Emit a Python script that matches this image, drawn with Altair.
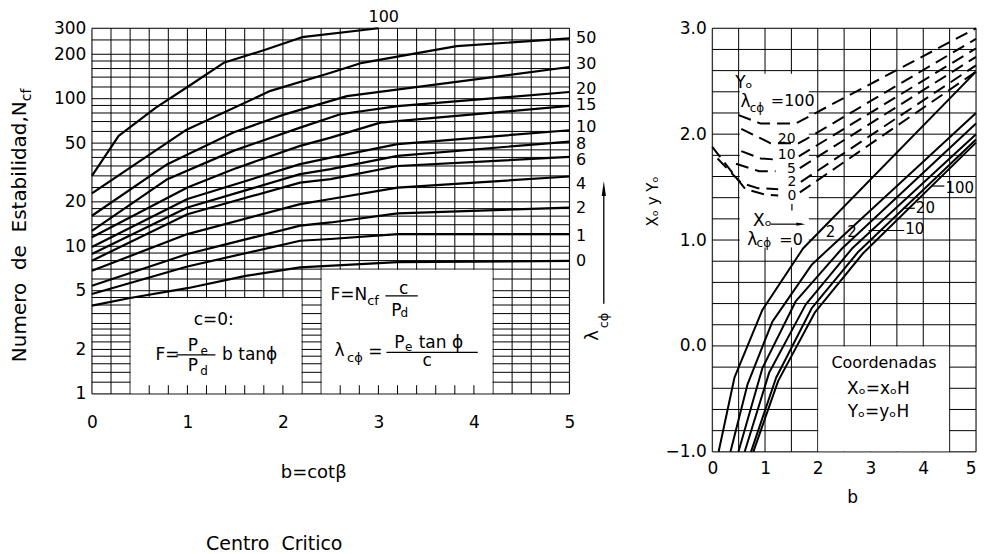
import altair as alt
import pandas as pd

FONT = "DejaVu Sans"
NB = "\u00a0"

# ============================ LEFT PANEL DATA ============================
# N_cf versus b = cot(beta), one polyline per lambda_c-phi value
b_l0 = [0, 0.4, 1.0, 1.61, 2.18, 3.2, 5]
n_l0 = [3.96, 4.46, 5.2, 6.3, 7.2, 7.8, 7.97]
b_l1 = [0, 1.0, 2.18, 2.5, 3.2, 5]
n_l1 = [4.75, 7.3, 10.9, 11.2, 12.1, 12.1]
b_l2 = [0, 1.0, 2.18, 2.5, 3.2, 5]
n_l2 = [5.4, 8.86, 13.8, 14.5, 16.7, 18.3]
b_l4 = [0, 1.0, 2.18, 2.5, 3.2, 5]
n_l4 = [6.83, 12.1, 19.3, 20.9, 25.0, 29.7]
b_l6 = [0, 1.0, 2.18, 2.5, 3.2, 5]
n_l6 = [7.98, 16.5, 27.0, 28.5, 35.0, 40.3]
b_l8 = [0, 1.0, 2.18, 2.5, 3.2, 5]
n_l8 = [8.86, 18.3, 30.8, 33.3, 41.0, 51.2]
b_l10 = [0, 1.0, 2.18, 2.5, 3.2, 5]
n_l10 = [9.9, 20.9, 36.0, 39.9, 49.2, 61.1]
b_l15 = [0, 1.0, 1.48, 2.18, 2.5, 3.02, 5]
n_l15 = [11.5, 25.0, 33.3, 47.9, 54.5, 68.8, 89.3]
b_l20 = [0, 0.79, 1.48, 2.18, 2.6, 3.2, 5]
n_l20 = [12.7, 28.5, 44.3, 63.7, 78.4, 89.0, 111]
b_l30 = [0, 0.79, 1.48, 2.01, 2.67, 5]
n_l30 = [16.1, 36.0, 59.0, 78.0, 104, 164]
b_l50 = [0, 0.98, 1.87, 2.5, 2.83, 3.82, 5]
n_l50 = [22.8, 61.0, 113, 150, 175, 227, 256]
b_l100 = [0, 0.28, 0.67, 1.0, 1.38, 1.83, 2.2, 3.0]
n_l100 = [30.0, 56.0, 87.0, 120, 175, 216, 261, 300]

# curve labels at the right of the left panel
lab_left_text = ["50", "30", "20", "15", "10", "8", "6", "4", "2", "1", "0"]
lab_left_n = [256, 172, 117, 90.7, 64.3, 49.6, 38.3, 26.6, 18.1, 11.8, 7.98]

# grid of the left panel
left_b_grid = [i / 5 for i in range(26)]
left_n_grid = [1, 1.2, 1.4, 1.6, 1.8, 2, 2.25, 2.5, 2.75, 3, 3.5, 4, 4.5, 5, 6, 7, 8, 9,
               10, 12, 14, 16, 18, 20, 25, 30, 35, 40, 45, 50, 60, 70, 80, 90,
               100, 120, 140, 160, 180, 200, 250, 300]
left_x_ticks = [0, 1, 2, 3, 4, 5]
left_y_ticks = [1, 2, 5, 10, 20, 50, 100, 200, 300]

# white formula boxes (b range, N range)
box_b0 = [0.4, 2.4]
box_b1 = [2.2, 4.2]
box_n0 = [1, 1]
box_n1 = [4.5, 7.0]
box_ticks_b = [0.6, 0.8, 1.0, 1.2, 1.4, 1.6, 1.8, 2.0, 2.6, 2.8, 3.0, 3.2, 3.4, 3.6, 3.8, 4.0]

# ============================ RIGHT PANEL DATA ===========================
# X0 (solid) curves
sA_b = [0.12, 0.42, 0.95, 1.72, 5]
sA_y = [-1.0, -0.30, 0.34, 0.92, 2.59]
sB_b = [0.345, 0.67, 1.14, 1.89, 5]
sB_y = [-1.0, -0.36, 0.23, 0.77, 2.20]
sC_b = [0.496, 0.95, 1.58, 2.46, 5]
sC_y = [-1.0, -0.21, 0.42, 0.92, 2.10]
sD_b = [0.614, 1.08, 1.77, 2.65, 5]
sD_y = [-1.0, -0.25, 0.39, 0.92, 2.00]
sE_b = [0.734, 1.21, 1.89, 2.77, 5]
sE_y = [-1.0, -0.30, 0.36, 0.89, 1.95]
sF_b = [0.778, 1.25, 1.95, 2.85, 5]
sF_y = [-1.0, -0.33, 0.32, 0.87, 1.92]

# Y0 (dashed) curves, split where the label sits
d100_b = [0.5, 0.92, 1.58, 5]
d100_y = [2.18, 2.1, 2.1, 3.0]
d20_b = [0.55, 0.92, 1.1, 1.64, 1.77, 5]
d20_y = [2.05, 1.96, 1.915, 1.915, 1.95, 2.9]
d10L_b = [0.55, 0.92, 1.2]
d10L_y = [1.84, 1.77, 1.76]
d10R_b = [1.64, 5]
d10R_y = [1.79, 2.81]
d5L_b = [0.45, 0.89, 1.2]
d5L_y = [1.72, 1.65, 1.65]
d5R_b = [1.66, 5]
d5R_y = [1.68, 2.73]
d2L_b = [0.1, 0.33, 0.55, 0.86, 1.25]
d2L_y = [1.77, 1.65, 1.54, 1.49, 1.48]
d2R_b = [1.68, 5]
d2R_y = [1.55, 2.65]
d0L_b = [0.0, 0.39, 0.63, 1.0, 1.25]
d0L_y = [1.88, 1.63, 1.48, 1.43, 1.42]
d0R_b = [1.66, 5]
d0R_y = [1.45, 2.59]

# blank (white) area behind the labels of the dashed curves
blank_b = [0.52, 1.83]
blank_y = [0.93, 2.57]

right_b_grid = [i / 2 for i in range(11)]
right_y_grid = [round(-1 + 0.2 * i, 1) for i in range(21)]
right_x_ticks = [0, 1, 2, 3, 4, 5]
right_y_ticks = [-1, 0, 1, 2, 3]

# ============================ SIZES ======================================
W1, H1 = 478, 366
W2, H2 = 264, 424

xl = alt.Scale(domain=[0, 5], nice=False, zero=False)
yl = alt.Scale(type="log", domain=[1, 300], nice=False)
xr = alt.Scale(domain=[0, 5], nice=False, zero=False)
yr = alt.Scale(domain=[-1, 3], nice=False, zero=False)

common_axis = dict(title=None, grid=False, ticks=False, domain=False, labelFontSize=17,
                   labelFont=FONT, labelColor="black", labelOverlap=False, labelFlush=False)
axis_xl = alt.Axis(values=left_x_ticks, labelPadding=21, format="d", **common_axis)
axis_yl = alt.Axis(values=left_y_ticks, labelPadding=6, format="d", **common_axis)
axis_xr = alt.Axis(values=right_x_ticks, labelPadding=9, format="d",
                   labelAlign={"condition": {"test": "datum.value >= 5", "value": "right"},
                               "value": "center"},
                   **common_axis)
axis_yr = alt.Axis(values=right_y_ticks, labelPadding=6, format=".1f", **common_axis)

L = (xl, yl, axis_xl, axis_yl)
R = (xr, yr, axis_xr, axis_yr)


def X(field, P):
    return alt.X(field, scale=P[0], axis=P[2])


def Y(field, P):
    return alt.Y(field, scale=P[1], axis=P[3])


def tlayer(rows, P, **kw):
    st = dict(font=FONT, color="black", baseline="middle", align="center", fontSize=17)
    st.update(kw)
    df = pd.DataFrame(rows, columns=["t", "x", "y"])
    return alt.Chart(df).mark_text(**st).encode(x=X("x:Q", P), y=Y("y:Q", P), text="t:N")


def plabel(text, px, py, **kw):
    st = dict(font=FONT, color="black", baseline="middle", align="center", fontSize=17)
    st.update(kw)
    return alt.Chart(pd.DataFrame({"t": [text]})).mark_text(**st).encode(
        x=alt.value(px), y=alt.value(py), text="t:N")


def hbar(rows, P, width=1.3):
    df = pd.DataFrame(rows, columns=["x0", "x1", "y"])
    return alt.Chart(df).mark_rule(color="black", strokeWidth=width).encode(
        x=X("x0:Q", P), x2="x1:Q", y=Y("y:Q", P))


def vrule(df, P, width=1.0):
    return alt.Chart(df).mark_rule(color="black", strokeWidth=width).encode(
        x=X("x:Q", P), y=Y("y0:Q", P), y2="y1:Q")


def rect(df, P):
    return alt.Chart(df).mark_rect(color="white").encode(
        x=X("x0:Q", P), x2="x1:Q", y=Y("y0:Q", P), y2="y1:Q")


# ------------------------------ LEFT PANEL -------------------------------
vg_l = vrule(pd.DataFrame({"x": left_b_grid, "y0": 1, "y1": 300}), L)
hg_l = alt.Chart(pd.DataFrame({"y": left_n_grid, "x0": 0, "x1": 5})).mark_rule(
    color="black", strokeWidth=1).encode(x=X("x0:Q", L), x2="x1:Q", y=Y("y:Q", L))

boxes_l = rect(pd.DataFrame({"x0": [v + 0.006 for v in box_b0], "x1": [v - 0.006 for v in box_b1],
                             "y0": [v * 1.008 for v in box_n0], "y1": [v / 1.008 for v in box_n1]}), L)
bt_l = vrule(pd.DataFrame({"x": box_ticks_b, "y0": 1, "y1": 1.145}), L)

curve_sets = [("0", b_l0, n_l0), ("1", b_l1, n_l1), ("2", b_l2, n_l2), ("4", b_l4, n_l4),
              ("6", b_l6, n_l6), ("8", b_l8, n_l8), ("10", b_l10, n_l10),
              ("15", b_l15, n_l15), ("20", b_l20, n_l20), ("30", b_l30, n_l30),
              ("50", b_l50, n_l50), ("100", b_l100, n_l100)]
crow = []
for lam, bs, ns in curve_sets:
    for i, (b, n) in enumerate(zip(bs, ns)):
        crow.append({"lam": lam, "x": b, "y": n, "o": i})
curves_l = alt.Chart(pd.DataFrame(crow)).mark_line(
    color="black", strokeWidth=2.2, strokeJoin="round").encode(
    x=X("x:Q", L), y=Y("y:Q", L), detail="lam:N", order="o:Q")

labs_l = tlayer([(t, 5.07, n) for t, n in zip(lab_left_text, lab_left_n)], L, align="left",
                fontSize=16)
lab100 = tlayer([("100", 3.056, 357)], L, fontSize=16)

# arrow + lambda label at the right
arrow_l = vrule(pd.DataFrame({"x": [5.36], "y0": [4.08], "y1": [23.0]}), L, width=1.3)
arrowhead_l = alt.Chart(pd.DataFrame({"x": [5.36], "y": [24.6]})).mark_point(
    shape="M0,-1L0.28,1L-0.28,1Z", filled=True, color="black", size=225, opacity=1).encode(
    x=X("x:Q", L), y=Y("y:Q", L))
lamlab_main = tlayer([("λ", 5.25, 2.29)], L, angle=270, align="left", fontSize=18)
lamlab_sub = tlayer([("cϕ", 5.36, 2.78)], L, angle=270, align="left", fontSize=13)

# formula box 1
f1_center = tlayer([("c=0:", 1.275, 3.18), ("P", 1.058, 2.095), ("P", 1.058, 1.535)], L)
f1_sub = tlayer([("e", 1.175, 1.94), ("d", 1.175, 1.437)], L, fontSize=12)
f1_left = tlayer([("F=", 0.665, 1.846), ("b tanϕ", 1.363, 1.846)], L, align="left")
f1_bar = hbar([(0.885, 1.293, 1.835)], L)

# formula box 2
f2_right = tlayer([("F=N", 2.882, 4.70)], L, align="right")
f2_subl = tlayer([("cf", 2.882, 4.28), ("cϕ", 2.672, 1.746)], L, align="left", fontSize=13)
f2_center = tlayer([("c", 3.265, 5.13), ("P", 3.187, 3.66), ("λ", 2.592, 1.94),
                    ("=", 2.969, 1.91), ("P", 3.218, 2.205), ("c", 3.51, 1.68)], L)
f2_subc = tlayer([("d", 3.272, 3.52), ("e", 3.317, 2.07)], L, fontSize=12)
f2_left = tlayer([("tan ϕ", 3.422, 2.205)], L, align="left")
f2_bars = hbar([(3.073, 3.412, 4.61), (3.084, 4.04, 1.91)], L)

ytitle_l = plabel("Numero" + NB + NB + "de" + NB + NB + "Estabilidad,N", -71.5, 73,
                  angle=270, align="right", fontSize=20)
ytitle_sub = plabel("cf", -65, 73, angle=270, align="left", fontSize=14)
xtitle_l = plabel("b=cotβ", 222, 445, fontSize=18)
centro = plabel("Centro" + NB + NB + "Critico", 182.5, 516.5, fontSize=19)

left = alt.layer(
    vg_l, hg_l, boxes_l, bt_l, curves_l, labs_l, lab100, arrow_l, arrowhead_l,
    lamlab_main, lamlab_sub, f1_center, f1_sub, f1_left, f1_bar,
    f2_right, f2_subl, f2_center, f2_subc, f2_left, f2_bars,
    ytitle_l, ytitle_sub, xtitle_l, centro,
).properties(width=W1, height=H1)

# ------------------------------ RIGHT PANEL ------------------------------
vg_r = vrule(pd.DataFrame({"x": right_b_grid, "y0": -1, "y1": 3}), R)
hg_r = alt.Chart(pd.DataFrame({"y": right_y_grid, "x0": 0, "x1": 5})).mark_rule(
    color="black", strokeWidth=1).encode(x=X("x0:Q", R), x2="x1:Q", y=Y("y:Q", R))

coord_box = rect(pd.DataFrame({"x0": [2.01], "x1": [4.49], "y0": [-0.995], "y1": [-0.005]}), R)
blank_box = rect(pd.DataFrame({"x0": [blank_b[0]], "x1": [blank_b[1]],
                               "y0": [blank_y[0]], "y1": [blank_y[1]]}), R)

srows = []
for key, bs, ys in [("A", sA_b, sA_y), ("B", sB_b, sB_y), ("C", sC_b, sC_y),
                    ("D", sD_b, sD_y), ("E", sE_b, sE_y), ("F", sF_b, sF_y)]:
    for i, (b, y) in enumerate(zip(bs, ys)):
        srows.append({"k": key, "x": b, "y": y, "o": i})
solid_r = alt.Chart(pd.DataFrame(srows)).mark_line(
    color="black", strokeWidth=2, strokeJoin="round").encode(
    x=X("x:Q", R), y=Y("y:Q", R), detail="k:N", order="o:Q")

drows = []
for key, bs, ys in [("100", d100_b, d100_y), ("20", d20_b, d20_y),
                    ("10L", d10L_b, d10L_y), ("10R", d10R_b, d10R_y),
                    ("5L", d5L_b, d5L_y), ("5R", d5R_b, d5R_y),
                    ("2L", d2L_b, d2L_y), ("2R", d2R_b, d2R_y),
                    ("0L", d0L_b, d0L_y), ("0R", d0R_b, d0R_y)]:
    for i, (b, y) in enumerate(zip(bs, ys)):
        drows.append({"k": key, "x": b, "y": y, "o": i})
dashed_r = alt.Chart(pd.DataFrame(drows)).mark_line(
    color="black", strokeWidth=2, strokeDash=[13, 7], strokeJoin="round").encode(
    x=X("x:Q", R), y=Y("y:Q", R), detail="k:N", order="o:Q")

r_center = tlayer([("Yₒ", 0.6, 2.48), ("λ", 0.63, 2.30),
                   ("Xₒ", 0.95, 1.18), ("λ", 0.76, 1.0),
                   ("Xₒ=xₒH", 3.15, -0.41), ("Yₒ=yₒH", 3.15, -0.62)], R)
r_small = tlayer([("2", 2.24, 1.08), ("2", 2.65, 1.08)], R, fontSize=15)
r_dlabels = tlayer([("20", 1.41, 1.95), ("10", 1.41, 1.80), ("5", 1.5, 1.675),
                    ("2", 1.51, 1.545), ("0", 1.51, 1.415)], R, fontSize=14)
r_coord = tlayer([("Coordenadas", 3.255, -0.16)], R, fontSize=16)
r_sub = tlayer([("cϕ", 0.71, 2.25), ("cϕ", 0.84, 0.97)], R, align="left", fontSize=12)
r_eq = tlayer([("=100", 1.11, 2.31), ("=0", 1.27, 1.0)], R, align="left", fontSize=16)
r_left = tlayer([("10", 3.66, 1.10), ("20", 3.86, 1.30), ("100", 4.42, 1.49)], R,
                align="left", fontSize=15)
r_leaders = hbar([(2.96, 3.64, 1.09), (3.62, 3.84, 1.30), (4.15, 4.40, 1.51), (1.11, 1.70, 1.15)], R,
                 width=1.2)
r_tick = vrule(pd.DataFrame({"x": [1.51], "y0": [1.28], "y1": [1.34]}), R, width=1.2)
r_head = alt.Chart(pd.DataFrame({"x": [1.68], "y": [1.15]})).mark_point(
    shape="M1,0L-1,0.35L-1,-0.35Z", filled=True, color="black", size=80, opacity=1).encode(
    x=X("x:Q", R), y=Y("y:Q", R))

ytitle_r = plabel("Xₒ y Yₒ", -59.7, 173.3, angle=270, fontSize=15)
xtitle_r = plabel("b", 140.6, 470)

right = alt.layer(
    vg_r, hg_r, coord_box, blank_box, solid_r, dashed_r, r_center, r_small, r_dlabels, r_coord,
    r_sub, r_eq, r_left, r_leaders, r_tick, r_head, ytitle_r, xtitle_r,
).properties(width=W2, height=H2)

chart = alt.hconcat(left, right, spacing=143, bounds="flush").properties(
    padding={"left": 2, "top": 0, "right": 0, "bottom": 0}
).configure_view(stroke=None).configure(background="white")

chart.save("out.html", embed_options={"renderer": "svg", "actions": False})
